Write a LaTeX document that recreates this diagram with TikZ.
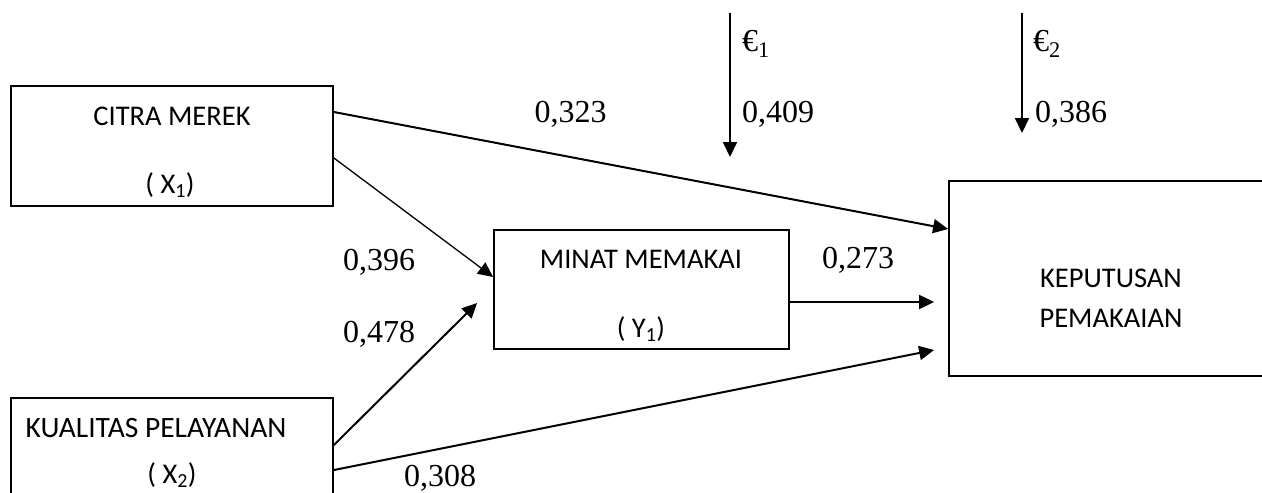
\documentclass[tikz,border=0pt]{standalone}
\usepackage{fontspec}
\setmainfont{Liberation Serif}
\newfontfamily\boxfont{Carlito}
\usetikzlibrary{arrows.meta}
\begin{document}
\begin{tikzpicture}[x=1pt,y=-1pt,
  varbox/.style={draw,line width=1.8pt,inner sep=0pt,rectangle},
  boxtext/.style={inner sep=0pt,anchor=base,font=\boxfont\fontsize{28.5}{34}\selectfont},
  coef/.style={inner sep=0pt,font=\fontsize{32}{38}\selectfont},
  path/.style={line width=2pt,-{Triangle[length=15pt,width=14pt]}},
  thinpath/.style={line width=1.3pt,-{Triangle[length=15pt,width=14pt]}}]
\useasboundingbox (0,0) rectangle (1262,493);
\clip (0,0) rectangle (1262,493);

% variable boxes
\node[varbox,minimum width=322pt,minimum height=120pt] (cm) at (172,146) {};
\node[varbox,minimum width=322pt,minimum height=132pt] (kq) at (172,464) {};
\node[varbox,minimum width=295pt,minimum height=119pt] (mi) at (641.5,289.5) {};
\node[varbox,minimum width=331pt,minimum height=195pt] (kp) at (1114.5,278.5) {};

% box captions
\node[boxtext] (cm1) at (172,125) {CITRA MEREK};
\node[boxtext] (cm2) at (170,193) {( X\textsubscript{1})};
\node[boxtext,font=\boxfont\fontsize{29.5}{35}\selectfont] (kq1) at (156,437) {KUALITAS PELAYANAN};
\node[boxtext] (kq2) at (172,483) {( X\textsubscript{2})};
\node[boxtext] (mi1) at (641,268) {MINAT MEMAKAI};
\node[boxtext] (mi2) at (641,337) {( Y\textsubscript{1})};
\node[boxtext] (kp1) at (1111,287) {KEPUTUSAN};
\node[boxtext] (kp2) at (1111,327) {PEMAKAIAN};

% paths between variables
\draw[path] ([yshift=34pt]cm.east) -- ([yshift=49.5pt]kp.west);
\draw[thinpath] ([yshift=-12pt]cm.east) -- ([yshift=12.5pt]mi.west);
\draw[path] ([yshift=19pt]kq.east) -- ([xshift=-16pt,yshift=-13.5pt]mi.west);
\draw[path] ([yshift=-6pt]kq.east) -- ([xshift=-14pt,yshift=-71.5pt]kp.west);
\draw[path] ([yshift=-12.5pt]mi.east) -- ([xshift=-14pt,yshift=-23.5pt]kp.west);

% error terms
\coordinate (e1s) at (730,13);
\coordinate (e1e) at (730,157);
\coordinate (e2s) at (1022,13);
\coordinate (e2e) at (1022,133);
\draw[path] (e1s) -- (e1e);
\draw[path] (e2s) -- (e2e);
\node[coef,anchor=base west] (e1) at (742,51) {€\textsubscript{1}};
\node[coef,anchor=base west] (e2) at (1033,51) {€\textsubscript{2}};

% path coefficients
\node[coef,anchor=base] (c323) at (570.5,122) {0,323};
\node[coef,anchor=base west] (c409) at (742,122) {0,409};
\node[coef,anchor=base west] (c386) at (1035,122) {0,386};
\node[coef,anchor=base] (c396) at (379,270) {0,396};
\node[coef,anchor=base] (c478) at (379,342) {0,478};
\node[coef,anchor=base] (c273) at (858,268) {0,273};
\node[coef,anchor=base] (c308) at (440,486) {0,308};
\end{tikzpicture}
\end{document}
